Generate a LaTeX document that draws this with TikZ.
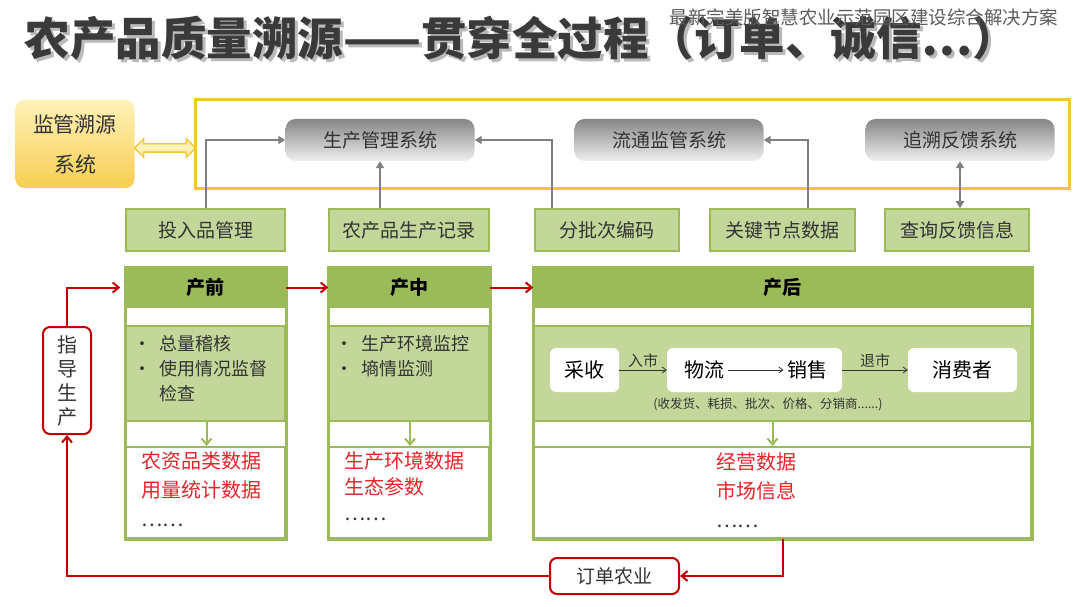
\documentclass[tikz,border=0pt]{standalone}
\usepackage{fontspec}
\setmainfont{Noto Sans CJK SC}
\usepackage{tikz}
\usetikzlibrary{arrows.meta,positioning,shapes.arrows}
\definecolor{Ink}{HTML}{333333}
\definecolor{Title}{HTML}{3A3A3A}
\definecolor{Gold}{HTML}{F5C533}
\definecolor{Cream}{HTML}{FFF1B8}
\definecolor{Leaf}{HTML}{9BBB59}
\definecolor{Sprout}{HTML}{C4D79B}
\definecolor{Wine}{HTML}{C00000}
\definecolor{Alert}{HTML}{E5252A}
\definecolor{Steel}{HTML}{7F7F7F}

\begin{document}
\begin{tikzpicture}[x=1pt,y=-1pt,
    sysbox/.style={rounded corners=10pt,top color=Steel!95,bottom color=Steel!12,
      minimum width=189pt,minimum height=42pt,text=Ink,
      font=\fontsize{19pt}{22pt}\selectfont},
    itembox/.style={fill=Sprout,draw=Leaf,line width=1.5pt,minimum height=42pt,
      text=Ink,font=\fontsize{19pt}{22pt}\selectfont},
    head/.style={fill=Leaf,draw=Leaf,line width=1.5pt,minimum height=39pt,
      text=black,font=\fontsize{19pt}{22pt}\selectfont\bfseries},
    body/.style={fill=Sprout,draw=Leaf,line width=2pt,minimum height=95pt},
    data/.style={fill=white,draw=Leaf,line width=2pt,minimum height=91pt},
    colframe/.style={draw=Leaf,line width=3pt},
    pill/.style={fill=white,rounded corners=6pt,minimum height=44pt,
      font=\fontsize{20pt}{24pt}\selectfont},
    redbox/.style={draw=Wine,line width=2pt,fill=white,rounded corners=7pt,
      text=Ink,font=\fontsize{19pt}{22pt}\selectfont},
    garr/.style={-{Triangle[length=7pt,width=8pt]},Steel,line width=2pt},
    larr/.style={-{Straight Barb[length=6pt,width=10pt]},Leaf,line width=2pt},
    rarr/.style={-{Straight Barb[length=6pt,width=10pt]},Wine,line width=2pt},
    tarr/.style={-{Straight Barb[length=4pt,width=6pt]},Ink,line width=0.8pt},
    bullets/.style={anchor=north west,align=left,text=Ink,
      font=\fontsize{18pt}{25pt}\selectfont},
    reds/.style={anchor=north west,align=left,text=Alert,
      font=\fontsize{20pt}{29pt}\selectfont}
  ]
    \fill[white] (0,0) rectangle (1080,607);
    \useasboundingbox (0,0) rectangle (1080,607);

    % title
    \node[anchor=west,text=Title!35,font=\fontsize{45.5pt}{50pt}\selectfont\bfseries]
      (titleshadow) at (24,41) {农产品质量溯源——贯穿全过程（订单、诚信…）};
    \node[anchor=west,text=Title,font=\fontsize{45.5pt}{50pt}\selectfont\bfseries]
      (title) at (21,38) {农产品质量溯源——贯穿全过程（订单、诚信…）};
    \node[anchor=east,text=Ink!80,font=\fontsize{18.5pt}{20pt}\selectfont]
      (subtitle) at (1062,17) {最新完美版智慧农业示范园区建设综合解决方案};

    % supervision system and its frame
    \node[rounded corners=9pt,top color=Cream,bottom color=Gold!85,
      minimum width=119pt,minimum height=88pt,align=center,text=Ink,
      font=\fontsize{21pt}{40pt}\selectfont] (jg) at (75,144) {监管溯源\\系统};
    \node[draw=Gold,line width=3pt,minimum width=874pt,minimum height=89pt]
      (frame) at (632,144) {};
    \node[double arrow,draw=Gold,fill=Cream,line width=1.3pt,inner sep=3.5pt,
      double arrow head extend=5pt,minimum height=61pt] (link) at (165,148) {};

    \node[sysbox] (scM) at (380,140) {生产管理系统};
    \node[sysbox] (scL) at (669,140) {流通监管系统};
    \node[sysbox] (scZ) at (960,140) {追溯反馈系统};

    \node[itembox,minimum width=159pt] (tr) at (205.5,230) {投入品管理};
    \node[itembox,minimum width=160pt] (nc) at (409,230) {农产品生产记录};
    \node[itembox,minimum width=144pt] (fp) at (607,230) {分批次编码};
    \node[itembox,minimum width=145pt] (gj) at (782.5,230) {关键节点数据};
    \node[itembox,minimum width=144pt] (cx) at (957,230) {查询反馈信息};

    \draw[garr] (tr.north) |- (scM.west);
    \draw[garr] (nc.north -| scM.south) -- (scM.south);
    \draw[garr] ([xshift=-55pt]fp.north) |- (scM.east);
    \draw[garr] ([xshift=25pt]gj.north) |- (scL.east);
    \draw[garr,{Triangle[length=7pt,width=8pt]}-{Triangle[length=7pt,width=8pt]}]
      (cx.north -| scZ.south) -- (scZ.south);

    % three stages
    \node[head,minimum width=159pt] (hd1) at (205.5,287.5) {产前};
    \node[body,minimum width=159pt] (bd1) at (205.5,373.5) {};
    \node[data,minimum width=159pt] (dt1) at (205.5,492.5) {};
    \node[head,minimum width=160pt] (hd2) at (409,287.5) {产中};
    \node[body,minimum width=160pt] (bd2) at (409,373.5) {};
    \node[data,minimum width=160pt] (dt2) at (409,492.5) {};
    \node[head,minimum width=497pt] (hd3) at (782.5,287.5) {产后};
    \node[body,minimum width=497pt] (bd3) at (782.5,373.5) {};
    \node[data,minimum width=497pt] (dt3) at (782.5,492.5) {};
    \foreach \n in {1,2,3}
      \draw[colframe] (hd\n.north west) rectangle (dt\n.south east);

    \node[bullets] (pre) at (130,332)
      {•\hspace{8pt}总量稽核\\•\hspace{8pt}使用情况监督\\\phantom{•\hspace{8pt}}检查};
    \node[bullets] (mid) at (332,332) {•\hspace{8pt}生产环境监控\\•\hspace{8pt}墒情监测};
    \node[reds] (preD) at (138,448) {农资品类数据\\用量统计数据\\\textcolor{Ink}{……}};
    \node[reds,font=\fontsize{20pt}{26pt}\selectfont] (midD) at (341,448)
      {生产环境数据\\生态参数\\\textcolor{Ink}{……}};
    \node[reds] (postD) at (713,449) {经营数据\\市场信息\\\textcolor{Ink}{……}};

    \draw[larr] ([xshift=1pt]bd1.south) -- ([xshift=1pt]dt1.north);
    \draw[larr] ([xshift=1pt]bd2.south) -- ([xshift=1pt]dt2.north);
    \draw[larr] ([xshift=-10pt]bd3.south) -- ([xshift=-10pt]dt3.north);

    % after production flow
    \node[pill,minimum width=69pt] (cs) at (584.5,370) {采收};
    \node[pill,minimum width=175pt] (wx) at (754.5,370) {};
    \node[font=\fontsize{20pt}{24pt}\selectfont] (wl) at (704,370) {物流};
    \node[font=\fontsize{20pt}{24pt}\selectfont] (xs) at (807,370) {销售};
    \node[pill,minimum width=109pt] (xf) at (962.5,370) {消费者};
    \draw[tarr] (cs) -- node[above=-1pt,font=\fontsize{15pt}{18pt}\selectfont] (rs) {入市} (wx);
    \draw[tarr] (wl) -- (xs);
    \draw[tarr] (wx) -- node[above=-1pt,font=\fontsize{15pt}{18pt}\selectfont] (ts) {退市} (xf);
    \node[text=Ink,font=\fontsize{12.5pt}{15pt}\selectfont] (cap) at (768,404)
      {(收发货、耗损、批次、价格、分销商......)};

    \draw[rarr] (hd1) -- (hd2);
    \draw[rarr] (hd2) -- (hd3);

    % feedback loop
    \node[redbox,minimum width=48pt,minimum height=107pt,align=center,inner sep=0pt,
      font=\fontsize{20pt}{24pt}\selectfont] (zd) at (67,380.5) {指\\导\\生\\产};
    \node[redbox,minimum width=129pt,minimum height=36pt] (dd) at (614.5,576) {订单农业};
    \draw[rarr,shorten >=5pt] (zd.north) |- (hd1.west);
    \draw[rarr] (dt3.south) |- (dd.east);
    \draw[rarr] (dd.west) -| (zd.south);
  \end{tikzpicture}
\end{document}
